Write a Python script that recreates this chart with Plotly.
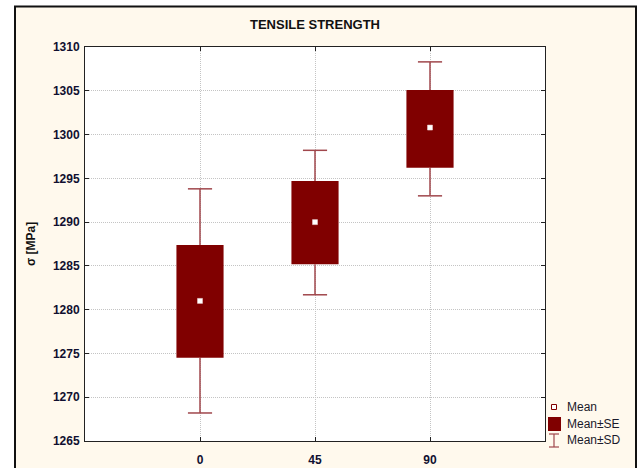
import plotly.graph_objects as go

categories = ["0", "45", "90"]
mean = [1281.0, 1290.0, 1300.8]
se_low = [1274.5, 1285.2, 1296.2]
se_high = [1287.4, 1294.7, 1305.1]
sd_low = [1268.2, 1281.7, 1293.0]
sd_high = [1293.8, 1298.2, 1308.3]
y_ticks = [1265, 1270, 1275, 1280, 1285, 1290, 1295, 1300, 1305, 1310]

MAROON = "#800000"
WHISK = "#A0474C"
FONT = "Liberation Sans"

xpos = list(range(len(categories)))
box_w = 0.41
cap_h = 0.105

# whisker segments outside the box + caps
wx, wy = [], []
for i, x in enumerate(xpos):
    wx += [x, x, None, x, x, None, x - cap_h, x + cap_h, None, x - cap_h, x + cap_h, None]
    wy += [se_high[i], sd_high[i], None, se_low[i], sd_low[i], None,
           sd_high[i], sd_high[i], None, sd_low[i], sd_low[i], None]

fig = go.Figure()
fig.add_trace(go.Scatter(x=wx, y=wy, mode="lines", line=dict(color=WHISK, width=1.5),
                         showlegend=False, hoverinfo="skip"))
fig.add_trace(go.Bar(x=xpos, y=[h - l for h, l in zip(se_high, se_low)], base=se_low,
                     width=box_w, marker=dict(color=MAROON, line=dict(width=0)),
                     showlegend=False))
fig.add_trace(go.Scatter(x=xpos, y=mean, mode="markers",
                         marker=dict(symbol="square", size=5, color="white",
                                     line=dict(color="#F0D8D8", width=0.5)),
                         showlegend=False))

W, H = 641, 468
# plot area in page pixels: x 85..545, y 47..441
L, T = 85, 47
R = W - 545
B = H - 441
pw, ph = W - L - R, H - T - B

def px(x):
    return (x - L) / pw

def py(y):
    return (T + ph - y) / ph

shapes = [
    dict(type="rect", xref="paper", yref="paper", x0=px(15), x1=px(636), y0=py(500), y1=py(6.5),
         fillcolor="#FFF9ED", line=dict(color="#111111", width=2), layer="below"),
    dict(type="rect", xref="paper", yref="paper", x0=0, x1=1, y0=0, y1=1,
         fillcolor="white", line=dict(width=0), layer="below"),
    # legend symbols
    dict(type="rect", xref="paper", yref="paper", x0=px(551.5), x1=px(556.5), y0=py(409.5), y1=py(404.5),
         fillcolor="white", line=dict(color=MAROON, width=1)),
    dict(type="rect", xref="paper", yref="paper", x0=px(548), x1=px(561), y0=py(431), y1=py(417),
         fillcolor=MAROON, line=dict(width=0)),
    dict(type="line", xref="paper", yref="paper", x0=px(554), x1=px(554), y0=py(434), y1=py(447),
         line=dict(color=WHISK, width=1.2)),
    dict(type="line", xref="paper", yref="paper", x0=px(549), x1=px(559), y0=py(434), y1=py(434),
         line=dict(color=WHISK, width=1.2)),
    dict(type="line", xref="paper", yref="paper", x0=px(549), x1=px(559), y0=py(447), y1=py(447),
         line=dict(color=WHISK, width=1.2)),
]

annotations = [
    dict(text="TENSILE STRENGTH", xref="paper", yref="paper", x=0.5, y=py(24), showarrow=False,
         font=dict(family=FONT, size=13, color="#111111", weight="bold"), yanchor="middle"),
    dict(text="σ [MPa]", xref="paper", yref="paper", x=px(31), y=0.5, showarrow=False, textangle=-90,
         font=dict(family=FONT, size=12, color="#111111", weight="bold"), xanchor="center", yanchor="middle"),
]
for label, yy in [("Mean", 407), ("Mean±SE", 424), ("Mean±SD", 440)]:
    annotations.append(dict(text=label, xref="paper", yref="paper", x=px(565), y=py(yy),
                            showarrow=False, xanchor="left", yanchor="middle",
                            font=dict(family=FONT, size=12, color="#1a1a2a")))

axis_common = dict(showline=True, linecolor="#222222", linewidth=1, mirror="allticks",
                   ticks="inside", ticklen=4, tickcolor="#222222",
                   showgrid=True, gridcolor="#C4C4C4", griddash="1px,1px", gridwidth=1,
                   zeroline=False, automargin=False,
                   tickfont=dict(family=FONT, size=12, color="#101030", weight="bold"))

fig.update_layout(
    width=W, height=H, margin=dict(l=L, r=R, t=T, b=B, pad=0, autoexpand=False),
    paper_bgcolor="white", plot_bgcolor="white",
    showlegend=False, shapes=shapes, annotations=annotations,
    xaxis=dict(range=[-1, 3], tickvals=xpos, ticktext=categories, ticklabelstandoff=8, **axis_common),
    yaxis=dict(range=[1265, 1310], tickvals=y_ticks, ticklabelstandoff=2, **axis_common),
)

fig.write_html("out.html", config={"displayModeBar": False},
               post_script="document.body.style.margin='0';document.body.style.overflow='hidden';")
